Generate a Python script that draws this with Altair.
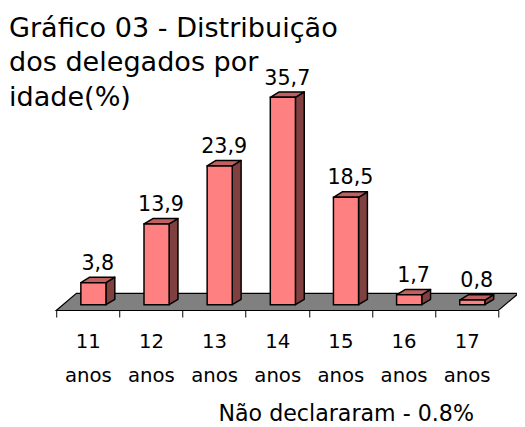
import json
import altair as alt
import pandas as pd

categories = ["11 anos", "12 anos", "13 anos", "14 anos", "15 anos", "16 anos", "17 anos"]
values = [3.8, 13.9, 23.9, 35.7, 18.5, 1.7, 0.8]
value_labels = ["3,8", "13,9", "23,9", "35,7", "18,5", "1,7", "0,8"]
title_lines = ["Gráfico 03 - Distribuição", "dos delegados por", "idade(%)"]
footnote = "Não declararam - 0.8%"

FONT = "DejaVu Sans"
FRONT = "#FF8080"
TOP = "#C06060"
SIDE = "#804040"
FLOOR = "#808080"

# layout (pixels)
PX_X = 64.14   # px per category
PX_Y = 5.9     # px per percentage point
W = 517
H = 194
PAD_TOP = 110
PAD_BOTTOM = 114
X0 = 49

n = len(categories)
u_min = -X0 / PX_X
u_max = u_min + W / PX_X
y_max = H / PX_Y

BAR_OFF = 25 / PX_X
BAR_W = 25.5 / PX_X
BASE = 5.9 / PX_Y
DX = 9 / PX_X
DY = 5.5 / PX_Y
FDX = 20.5 / PX_X
FDY = 17.4 / PX_Y

front_rows, side_rows, top_rows = [], [], []
for i, (c, v, lab) in enumerate(zip(categories, values, value_labels)):
    xl = i + BAR_OFF
    xr = xl + BAR_W
    front_rows.append(dict(cat=c, xl=xl, xr=xr, y0=BASE, y1=BASE + v,
                           lx=(xl + xr + DX) / 2, ly=BASE + v + DY, label=lab))
    side_rows += [dict(cat=c, x=xr, ylo=BASE, yhi=BASE + v),
                  dict(cat=c, x=xr + DX, ylo=BASE + DY, yhi=BASE + v + DY)]
    top_rows += [dict(cat=c, y=BASE + v, xlo=xl, xhi=xr),
                 dict(cat=c, y=BASE + v + DY, xlo=xl + DX, xhi=xr + DX)]
front = pd.DataFrame(front_rows)
side = pd.DataFrame(side_rows)
top = pd.DataFrame(top_rows)
floor = pd.DataFrame([dict(k="f", y=0.0, xlo=0.0, xhi=float(n)),
                      dict(k="f", y=FDY, xlo=FDX, xhi=n + FDX)])

xscale = alt.Scale(domain=[u_min, u_max], nice=False, zero=False)
yscale = alt.Scale(domain=[0, y_max], nice=False, zero=False)

label_expr = (f"datum.value < {n} ? split({json.dumps(categories)}[datum.value], ' ') : ''")
xaxis = alt.Axis(values=list(range(n + 1)), labelExpr=label_expr, labelOffset=PX_X / 2,
                 tickSize=6.6, tickColor="black", tickWidth=1, domain=False, grid=False,
                 labelFont=FONT, labelFontSize=20, labelColor="black", labelLineHeight=34.5,
                 labelPadding=15, labelFlush=False, labelOverlap=False, labelBound=False,
                 title=footnote, titleFont=FONT, titleFontSize=22.5, titleFontWeight="normal",
                 titleColor="black", titleX=343, titleY=112, titleAlign="center",
                 titleBaseline="alphabetic")


def X(field):
    return alt.X(f"{field}:Q", scale=xscale, axis=xaxis)


def Y(field):
    return alt.Y(f"{field}:Q", scale=yscale, axis=None)


floor_layer = alt.Chart(floor).mark_area(orient="horizontal", fill=FLOOR, stroke="black",
                                         strokeWidth=1.2).encode(
    y=Y("y"), x=X("xhi"), x2="xlo", detail="k:N")

side_layer = alt.Chart(side).mark_area(orient="vertical", fill=SIDE, stroke="black",
                                       strokeWidth=1.5, strokeJoin="round").encode(
    x=X("x"), y=Y("yhi"), y2="ylo", detail="cat:N")

top_layer = alt.Chart(top).mark_area(orient="horizontal", fill=TOP, stroke="black",
                                     strokeWidth=1.5, strokeJoin="round").encode(
    y=Y("y"), x=X("xhi"), x2="xlo", detail="cat:N")

front_layer = alt.Chart(front).mark_rect(fill=FRONT, stroke="black", strokeWidth=1.5).encode(
    x=X("xl"), x2="xr", y=Y("y0"), y2="y1")

label_layer = alt.Chart(front).mark_text(font=FONT, fontSize=21, color="black",
                                         baseline="alphabetic", dy=-7.5).encode(
    x=X("lx"), y=Y("ly"), text="label:N")

chart = alt.layer(floor_layer, side_layer, top_layer, front_layer, label_layer).properties(
    width=W, height=H,
    padding={"top": PAD_TOP, "bottom": PAD_BOTTOM, "left": 0, "right": 0},
    autosize="none",
    background="white",
    title=alt.Title(title_lines, anchor="start", frame="group", font=FONT, fontSize=27.5,
                    fontWeight="normal", color="black", lineHeight=35, offset=-44, dx=1),
).configure_view(stroke=None)

chart.save("out.html", embed_options={"renderer": "svg", "actions": False})
